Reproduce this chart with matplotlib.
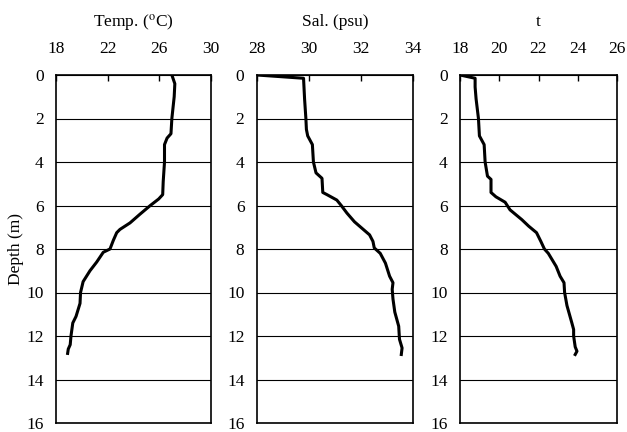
import matplotlib.pyplot as plt

# depth profiles (m)
temp_depth = [0, 0.4, 1.0, 2.0, 2.7, 2.9, 3.2, 4.0, 4.9, 5.5, 5.7, 6.0, 6.4, 6.8, 7.1,
              7.25, 7.6, 8.0, 8.15, 8.6, 9.0, 9.5, 10.0, 10.5, 11.1, 11.4, 12.0, 12.4, 12.6, 12.8]
temp = [26.97, 27.2, 27.15, 26.97, 26.9, 26.6, 26.4, 26.4, 26.3, 26.26, 25.95, 25.3, 24.5, 23.73, 22.95,
        22.7, 22.44, 22.18, 21.66, 21.15, 20.63, 20.1, 19.9, 19.86, 19.55, 19.3, 19.16, 19.1, 18.95, 18.9]

sal_depth = [0, 0.15, 1.1, 2.0, 2.5, 2.8, 3.2, 4.0, 4.5, 4.75, 5.4, 5.5, 5.75, 6.0, 6.35, 6.75, 7.05,
             7.35, 7.65, 7.95, 8.2, 8.65, 9.25, 9.55, 9.85, 10.3, 10.9, 11.55, 12.15, 12.55, 12.85]
sal = [28.0, 29.79, 29.83, 29.88, 29.9, 29.95, 30.13, 30.17, 30.27, 30.5, 30.53, 30.69, 31.07, 31.24, 31.46,
       31.75, 32.04, 32.33, 32.46, 32.51, 32.74, 32.94, 33.1, 33.23, 33.2, 33.23, 33.3, 33.45, 33.48, 33.58, 33.55]

sig_depth = [0, 0.15, 0.55, 1.1, 2.0, 2.8, 3.2, 4.0, 4.65, 4.8, 5.4, 5.6, 5.85, 6.2, 6.65, 6.95, 7.25,
             7.65, 8.0, 8.2, 8.8, 9.25, 9.55, 10.0, 10.6, 11.4, 11.7, 12.0, 12.5, 12.7, 12.85]
sigma_t = [18.0, 18.77, 18.77, 18.82, 18.94, 18.99, 19.23, 19.28, 19.4, 19.58, 19.58, 19.83, 20.3, 20.55,
           21.15, 21.5, 21.9, 22.12, 22.3, 22.5, 22.9, 23.1, 23.3, 23.33, 23.45, 23.7, 23.79, 23.79, 23.87, 23.96, 23.87]

titles = ["Temp. ($^{\\rm o}$C)", "Sal. (psu)", "t"]
xlims = [(18, 30), (28, 34), (18, 26)]
xsteps = [4, 2, 2]
depth_ticks = list(range(0, 17, 2))

plt.rcParams['font.family'] = ['Liberation Serif', 'DejaVu Serif']
plt.rcParams['mathtext.fontset'] = 'stix'
FS = 12.5

fig = plt.figure(figsize=(6.27, 4.32), dpi=100)
lefts = [56 / 627, 257 / 627, 460 / 627]
widths = [155 / 627, 156 / 627, 157 / 627]
bottom = 1 - 423 / 432
height = (423 - 75) / 432

profiles = [(temp, temp_depth), (sal, sal_depth), (sigma_t, sig_depth)]

for i in range(3):
    ax = fig.add_axes([lefts[i], bottom, widths[i], height])
    x, d = profiles[i]
    ax.plot(x, d, color='black', lw=2.2, solid_joinstyle='round')
    lo, hi = xlims[i]
    ax.set_xlim(lo, hi)
    ax.set_ylim(16, 0)
    ax.set_xticks(range(lo, hi + 1, xsteps[i]))
    ax.set_yticks(depth_ticks)
    ax.yaxis.grid(True, color='black', lw=0.8)
    ax.set_axisbelow(True)
    ax.xaxis.tick_top()
    ax.tick_params(axis='x', direction='in', length=4, width=1, pad=13, labelsize=FS)
    ax.tick_params(axis='y', length=0, pad=9, labelsize=FS)
    for s in ax.spines.values():
        s.set_linewidth(1.2)
    ax.text(0.5, 1.152, titles[i], transform=ax.transAxes, ha='center', va='center', fontsize=FS)
    if i == 0:
        ax.text(-0.26, 0.5, "Depth (m)", transform=ax.transAxes, rotation=90,
                ha='center', va='center', fontsize=FS)

fig.savefig('out.png', dpi=100)
